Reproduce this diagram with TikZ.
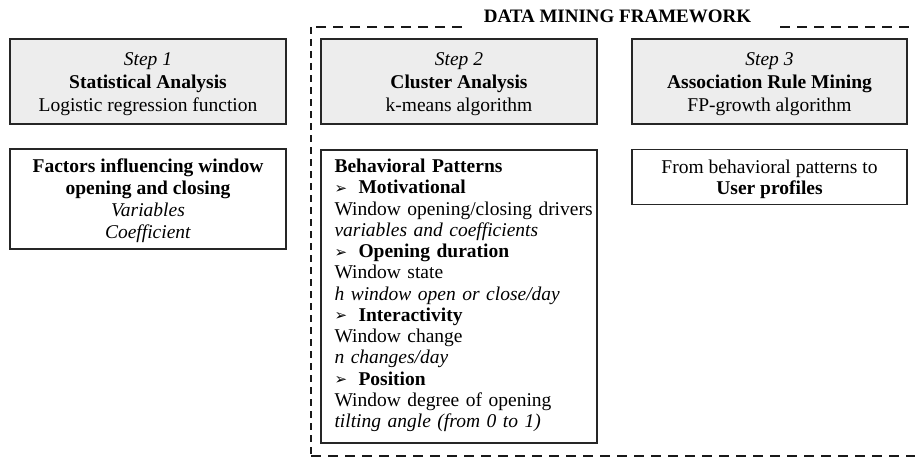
\documentclass[tikz,border=0pt]{standalone}
\usepackage{fontspec}
\setmainfont{Liberation Serif}
\newfontfamily\symfont{DejaVu Sans}
\newcommand{\bulx}{\makebox[24pt][l]{\raisebox{0.5pt}{\symfont\fontsize{15}{15}\selectfont ➢}}}
\newcommand{\tstrut}[1]{\rule{0pt}{#1}}
\begin{document}
\begin{tikzpicture}[x=1pt,y=-1pt,
  stepbox/.style={draw=black!85, line width=1.3pt, fill=black!7, minimum width=276pt, minimum height=85pt, align=center, inner sep=0pt, font=\fontsize{19.5}{23}\selectfont},
  infobox/.style={draw=black!85, line width=1.3pt, fill=white, minimum width=276pt, inner sep=0pt, align=center, font=\fontsize{19.5}{22}\selectfont},
  plainbox/.style={draw=black!85, line width=1.3pt, fill=white, minimum width=276pt, inner sep=0pt},
  listtext/.style={anchor=north west, text width=262pt, align=left, inner sep=0pt, font=\fontsize{19.5}{21.25}\selectfont},
  framehz/.style={line width=2.8pt, black!90, dash pattern=on 10pt off 7pt},
  framevt/.style={line width=2.8pt, black!90, dash pattern=on 7pt off 5pt}
]
\useasboundingbox (0,0) rectangle (915,460);

\node[stepbox] (s1) at (148,81.5) {\tstrut{18pt}\textit{Step 1}\\\textbf{Statistical Analysis}\\Logistic regression function};
\node[stepbox] (s2) at (459,81.5) {\tstrut{18pt}\textit{Step 2}\\\textbf{Cluster Analysis}\\k-means algorithm};
\node[stepbox, minimum width=275pt] (s3) at (769.5,81.5) {\tstrut{18pt}\textit{Step 3}\\\textbf{Association Rule Mining}\\FP-growth algorithm};

\node[infobox, minimum height=100pt] (f1) at (148,199) {\tstrut{18pt}\textbf{Factors influencing window}\\\textbf{opening and closing}\\\textit{Variables}\\\textit{Coefficient}};
\node[infobox, minimum height=55pt, minimum width=275pt, font=\fontsize{19.5}{21}\selectfont] (f3) at (769.5,177) {\tstrut{19pt}From behavioral patterns to\\\textbf{User profiles}};

\node[plainbox, minimum height=293pt] (f2) at (459,296.5) {};
\node[listtext] (f2t) at ([xshift=14pt,yshift=-9.5pt]f2.north west) {\textbf{Behavioral Patterns}\\
\bulx\textbf{Motivational}\\
Window opening/closing drivers\\
\textit{variables and coefficients}\\
\bulx\textbf{Opening duration}\\
Window state\\
\textit{h window open or close/day}\\
\bulx\textbf{Interactivity}\\
Window change\\
\textit{n changes/day}\\
\bulx\textbf{Position}\\
Window degree of opening\\
\textit{tilting angle (from 0 to 1)}};

\node[font=\fontsize{19}{19}\selectfont\bfseries, anchor=base, inner sep=0pt] (title) at (617.5,23) {DATA MINING FRAMEWORK};

\coordinate (fa) at (462,27);
\coordinate (fb) at (311,27);
\coordinate (fc) at (311,456);
\coordinate (fd) at (920,456);
\coordinate (fe) at (920,27);
\coordinate (ff) at (780,27);
\draw[framehz] (fa) -- (fb);
\draw[framevt] (fb) -- (fc);
\draw[framehz] (fc) -- (fd);
\draw[framehz] (ff) -- (fe);
\end{tikzpicture}
\end{document}
